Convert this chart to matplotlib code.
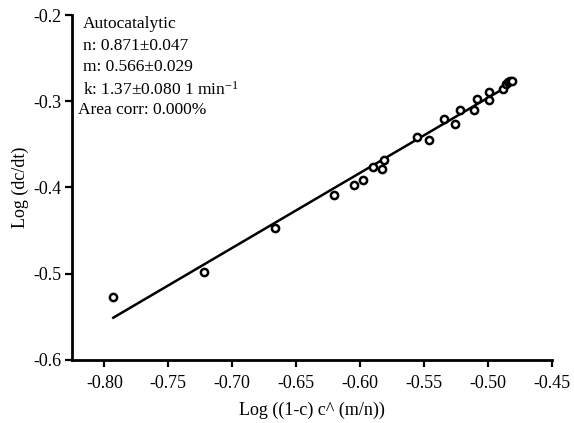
import matplotlib
matplotlib.use("Agg")
import matplotlib.pyplot as plt
import numpy as np

plt.rcParams['font.family'] = ['Liberation Serif', 'DejaVu Serif']
plt.rcParams['mathtext.fontset'] = 'custom'
plt.rcParams['mathtext.rm'] = 'Liberation Serif'
plt.rcParams['mathtext.default'] = 'regular'

# data points
x_pts = [-0.7934, -0.7219, -0.6667, -0.6203, -0.6051, -0.5979, -0.5898, -0.5830,
         -0.5815, -0.5555, -0.5461, -0.5344, -0.5260, -0.5219, -0.5109, -0.5086,
         -0.4997, -0.4992, -0.4883, -0.4862, -0.4844, -0.4830, -0.4817]
y_pts = [-0.5267, -0.4984, -0.4470, -0.4092, -0.3969, -0.3914, -0.3764, -0.3787,
         -0.3679, -0.3420, -0.3454, -0.3211, -0.3262, -0.3100, -0.3107, -0.2976,
         -0.2898, -0.2991, -0.2856, -0.2805, -0.2782, -0.2767, -0.2763]

# fit line
fit_slope = 0.871
fit_intercept = 0.1397
fit_x = [-0.793, -0.484]

x_ticks = [-0.80, -0.75, -0.70, -0.65, -0.60, -0.55, -0.50, -0.45]
y_ticks = [-0.6, -0.5, -0.4, -0.3, -0.2]

info_lines = ["Autocatalytic", "n: 0.871\u00b10.047", "m: 0.566\u00b10.029",
              "k: 1.37\u00b10.080 1 min$^{-1}$"]
area_line = "Area corr: 0.000%"

fig = plt.figure(figsize=(5.74, 4.23), dpi=100)
ax = fig.add_axes([0.126, 0.149, 0.836, 0.8155])

fx = np.array(fit_x)
ax.plot(fx, fit_slope * fx + fit_intercept, color='black', lw=1.8, zorder=2)
ax.plot(x_pts, y_pts, 'o', mfc='white', mec='black', mew=1.8, ms=5.2, zorder=3,
        linestyle='none')

ax.set_xlim(-0.825, -0.45)
ax.set_ylim(-0.6, -0.2)
ax.set_xticks(x_ticks)
ax.set_xticklabels([f"{t:.2f}" for t in x_ticks])
ax.set_yticks(y_ticks)
ax.set_yticklabels([f"{t:.1f}" for t in y_ticks])
ax.spines['top'].set_visible(False)
ax.spines['right'].set_visible(False)
for s in ['left', 'bottom']:
    ax.spines[s].set_linewidth(2.0)
ax.tick_params(direction='out', length=5, width=1.6, labelsize=13)
ax.tick_params(axis='y', pad=3)
ax.tick_params(axis='x', pad=6)

ax.set_xlabel("Log ((1-c) c^ (m/n))", fontsize=13, labelpad=7)
ax.set_ylabel("Log (dc/dt)", fontsize=13, labelpad=3)

for i, line in enumerate(info_lines):
    ax.text(0.022, 0.997 - i * 0.0625, line, transform=ax.transAxes,
            fontsize=12.5, va='top', ha='left')
ax.text(0.012, 0.997 - 4 * 0.0625, area_line, transform=ax.transAxes,
        fontsize=12.5, va='top', ha='left')

fig.savefig("out.png", dpi=100)
